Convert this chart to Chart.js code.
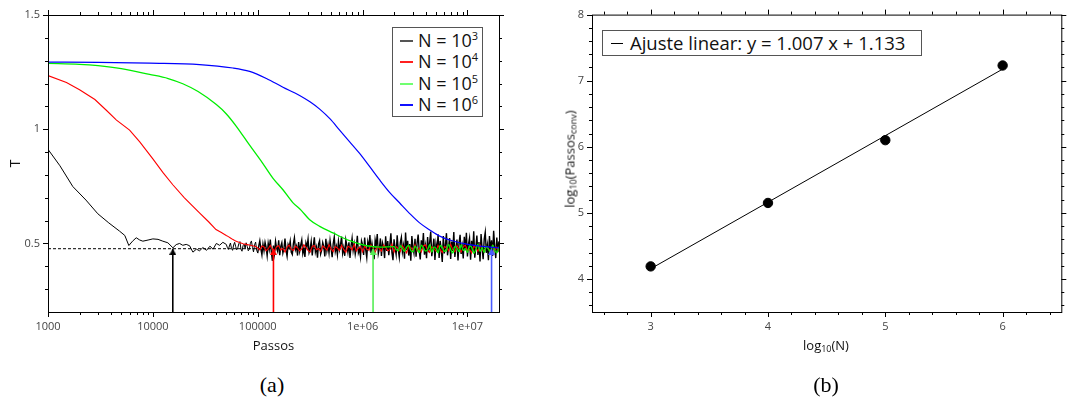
<!DOCTYPE html>
<html>
<head>
<meta charset="utf-8">
<script src="https://cdn.jsdelivr.net/npm/chart.js@4.4.1/dist/chart.umd.min.js"></script>
<style>
  body { margin: 0; background: #fff; width: 1067px; height: 407px; position: relative; overflow: hidden; font-family: 'Open Sans', sans-serif; }
  .panel { position: absolute; top: 0; height: 360px; }
  #panel-a { left: 0; width: 530px; }
  #panel-b { left: 540px; width: 527px; }
  .legend { position: absolute; background: #fff; border: 1px solid #555; color: #111; box-sizing: border-box; }
  #legend-a { left: 392px; top: 27px; width: 91px; height: 90px; padding-top: 2px; }
  #legend-a .row { position: relative; height: 21.3px; line-height: 21.3px; font-size: 18px; padding-left: 25px; white-space: nowrap; }
  #legend-a .swatch { position: absolute; left: 7px; top: 10px; width: 13px; height: 2px; }
  #legend-a sup { font-size: 11px; vertical-align: 0; position: relative; top: -7px; }
  #legend-b { left: 602px; top: 30px; width: 320px; height: 26px; font-size: 18.5px; line-height: 24px; padding-left: 27px; white-space: nowrap; }
  #legend-b .swatch { position: absolute; left: 8px; top: 12px; width: 12px; height: 1px; background: #000; }
  .axis-title { position: absolute; font-size: 13px; color: #111; white-space: nowrap; transform: translate(-50%, -50%); }
  .axis-title sub { font-size: 9px; vertical-align: -2px; }
  #xtitle-b { left: 826px; top: 345px; }
  #ytitle-b { left: 570px; top: 159px; transform: translate(-50%, -50%) rotate(-90deg); }
  .caption { position: absolute; top: 385px; font-family: 'Liberation Serif', serif; font-size: 22px; transform: translate(-50%, -50%); }
</style>
</head>
<body>
<div id="panel-a" class="panel"><canvas id="chart-a" width="530" height="360"></canvas></div>
<div id="panel-b" class="panel"><canvas id="chart-b" width="527" height="360"></canvas></div>
<div id="legend-a" class="legend"></div>
<div id="legend-b" class="legend"><span class="swatch"></span>Ajuste linear: y = 1.007 x + 1.133</div>
<div class="axis-title" id="xtitle-b">log<sub>10</sub>(N)</div>
<div class="axis-title" id="ytitle-b">log<sub>10</sub>(Passos<sub>conv</sub>)</div>
<div class="caption" style="left:272px">(a)</div>
<div class="caption" style="left:826px">(b)</div>
<script>
// ---- panel (a): T vs Passos ----
const seriesExponents = [3, 4, 5, 6];

const blackPassos = [1000, 1300, 1725, 2300, 2985, 3800, 4810, 5400, 5900, 6400, 6940, 7500, 8030, 9000, 10000, 11200, 12450, 13900, 15530, 16700, 17980, 19300, 20800, 22400, 24100, 26000, 27900, 30000, 32500, 35000, 37500, 40300, 43300, 46500];
const blackT = [0.912, 0.84, 0.749, 0.69, 0.63, 0.59, 0.554, 0.535, 0.491, 0.51, 0.525, 0.515, 0.51, 0.515, 0.52, 0.518, 0.51, 0.503, 0.481, 0.495, 0.50, 0.492, 0.496, 0.49, 0.462, 0.475, 0.468, 0.482, 0.47, 0.488, 0.475, 0.50, 0.492, 0.505];

const redPassos = [1000, 1500, 2000, 2800, 3600, 4500, 6000, 7500, 10000, 12500, 15500, 20000, 28000, 34000, 40000, 45000];
const redT = [1.235, 1.205, 1.173, 1.13, 1.083, 1.04, 0.996, 0.945, 0.87, 0.81, 0.757, 0.70, 0.633, 0.595, 0.561, 0.548];

const greenPassos = [1000, 2000, 3000, 5000, 9300, 14000, 19300, 27000, 40300, 50000, 62000, 83700, 110000, 140000, 174000, 215000, 260000, 313000, 390000, 522000, 753000, 1090000, 1500000];
const greenT = [1.288, 1.284, 1.278, 1.265, 1.240, 1.222, 1.199, 1.165, 1.108, 1.068, 1.015, 0.93, 0.855, 0.785, 0.735, 0.68, 0.645, 0.604, 0.575, 0.546, 0.512, 0.49, 0.484];

const bluePassos = [1000, 3000, 9300, 27900, 58000, 83700, 121000, 174000, 251000, 315000, 390000, 490000, 604000, 750000, 937000, 1170000, 1455000, 1800000, 2260000, 2800000, 3500000, 4400000, 5440000, 6800000, 8440000, 13100000, 20000000];
const blueT = [1.294, 1.293, 1.289, 1.283, 1.268, 1.253, 1.222, 1.184, 1.148, 1.12, 1.088, 1.045, 0.996, 0.946, 0.894, 0.836, 0.778, 0.725, 0.677, 0.632, 0.590, 0.558, 0.532, 0.515, 0.503, 0.488, 0.481];

// N = 10^3 equilibrium fluctuations, sampled at log10(Passos)
const blackLogPassos = [
  4.70, 4.71, 4.72, 4.73, 4.74, 4.75, 4.76, 4.77, 4.78, 4.79,
  4.80, 4.81, 4.82, 4.83, 4.84, 4.85, 4.86, 4.87, 4.88, 4.89,
  4.90, 4.91, 4.92, 4.93, 4.94, 4.95, 4.96, 4.97, 4.98, 4.99,
  5.00, 5.01, 5.02, 5.03, 5.04, 5.05, 5.06, 5.07, 5.08, 5.09,
  5.10, 5.11, 5.12, 5.13, 5.14, 5.15, 5.16, 5.17, 5.18, 5.19,
  5.20, 5.21, 5.22, 5.23, 5.24, 5.25, 5.26, 5.27, 5.28, 5.29,
  5.30, 5.31, 5.32, 5.33, 5.34, 5.35, 5.36, 5.37, 5.38, 5.39,
  5.40, 5.41, 5.42, 5.43, 5.44, 5.45, 5.46, 5.47, 5.48, 5.49,
  5.50, 5.51, 5.52, 5.53, 5.54, 5.55, 5.56, 5.57, 5.58, 5.59,
  5.60, 5.61, 5.62, 5.63, 5.64, 5.65, 5.66, 5.67, 5.68, 5.69,
  5.70, 5.71, 5.72, 5.73, 5.74, 5.75, 5.76, 5.77, 5.78, 5.79,
  5.80, 5.81, 5.82, 5.83, 5.84, 5.85, 5.86, 5.87, 5.88, 5.89,
  5.90, 5.91, 5.92, 5.93, 5.94, 5.95, 5.96, 5.97, 5.98, 5.99,
  6.00, 6.01, 6.02, 6.03, 6.04, 6.05, 6.06, 6.07, 6.08, 6.09,
  6.10, 6.11, 6.12, 6.13, 6.14, 6.15, 6.16, 6.17, 6.18, 6.19,
  6.20, 6.21, 6.22, 6.23, 6.24, 6.25, 6.26, 6.27, 6.28, 6.29,
  6.30, 6.31, 6.32, 6.33, 6.34, 6.35, 6.36, 6.37, 6.38, 6.39,
  6.40, 6.41, 6.42, 6.43, 6.44, 6.45, 6.46, 6.47, 6.48, 6.49,
  6.50, 6.51, 6.52, 6.53, 6.54, 6.55, 6.56, 6.57, 6.58, 6.59,
  6.60, 6.61, 6.62, 6.63, 6.64, 6.65, 6.66, 6.67, 6.68, 6.69,
  6.70, 6.71, 6.72, 6.73, 6.74, 6.75, 6.76, 6.77, 6.78, 6.79,
  6.80, 6.81, 6.82, 6.83, 6.84, 6.85, 6.86, 6.87, 6.88, 6.89,
  6.90, 6.91, 6.92, 6.93, 6.94, 6.95, 6.96, 6.97, 6.98, 6.99,
  7.00, 7.01, 7.02, 7.03, 7.04, 7.05, 7.06, 7.07, 7.08, 7.09,
  7.10, 7.11, 7.12, 7.13, 7.14, 7.15, 7.16, 7.17, 7.18, 7.19,
  7.20, 7.21, 7.22, 7.23, 7.24, 7.25, 7.26, 7.27, 7.28, 7.29,
  7.30
];
const blackNoiseT = [
  0.496, 0.483, 0.474, 0.489, 0.502, 0.478, 0.470, 0.493, 0.505, 0.486,
  0.472, 0.481, 0.499, 0.508, 0.476, 0.466, 0.490, 0.497, 0.479, 0.503,
  0.487, 0.468, 0.475, 0.501, 0.511, 0.482, 0.463, 0.494, 0.506, 0.471,
  0.458, 0.489, 0.512, 0.476, 0.450, 0.497, 0.468, 0.505, 0.483, 0.446,
  0.501, 0.474, 0.517, 0.462, 0.424, 0.491, 0.455, 0.509, 0.480, 0.466,
  0.514, 0.449, 0.487, 0.503, 0.458, 0.477, 0.521, 0.470, 0.444, 0.495,
  0.482, 0.510, 0.461, 0.452, 0.499, 0.525, 0.473, 0.488, 0.447, 0.506,
  0.466, 0.493, 0.515, 0.456, 0.479, 0.441, 0.502, 0.485, 0.519, 0.460,
  0.475, 0.508, 0.448, 0.490, 0.527, 0.463, 0.484, 0.438, 0.497, 0.512,
  0.454, 0.471, 0.504, 0.486, 0.443, 0.520, 0.468, 0.495, 0.459, 0.513,
  0.478, 0.440, 0.500, 0.528, 0.465, 0.487, 0.451, 0.509, 0.473, 0.496,
  0.530, 0.457, 0.482, 0.446, 0.516, 0.492, 0.462, 0.505, 0.437, 0.489,
  0.523, 0.469, 0.498, 0.453, 0.481, 0.534, 0.460, 0.476, 0.442, 0.511,
  0.494, 0.450, 0.526, 0.472, 0.438, 0.507, 0.483, 0.537, 0.458, 0.499,
  0.466, 0.431, 0.515, 0.490, 0.541, 0.455, 0.478, 0.522, 0.445, 0.503,
  0.486, 0.436, 0.531, 0.467, 0.510, 0.449, 0.495, 0.544, 0.460, 0.427,
  0.518, 0.481, 0.452, 0.536, 0.474, 0.440, 0.505, 0.527, 0.463, 0.491,
  0.433, 0.548, 0.470, 0.512, 0.447, 0.497, 0.424, 0.532, 0.484, 0.458,
  0.520, 0.442, 0.501, 0.539, 0.468, 0.430, 0.514, 0.477, 0.546, 0.451,
  0.489, 0.435, 0.528, 0.462, 0.506, 0.552, 0.444, 0.480, 0.521, 0.428,
  0.498, 0.465, 0.540, 0.437, 0.511, 0.473, 0.419, 0.533, 0.456, 0.492,
  0.545, 0.448, 0.485, 0.524, 0.432, 0.508, 0.467, 0.550, 0.441, 0.479,
  0.517, 0.426, 0.502, 0.538, 0.454, 0.488, 0.434, 0.529, 0.471, 0.547,
  0.443, 0.496, 0.523, 0.429, 0.512, 0.464, 0.553, 0.438, 0.482, 0.535,
  0.450, 0.506, 0.421, 0.541, 0.476, 0.431, 0.519, 0.549, 0.459, 0.493,
  0.427, 0.532, 0.470, 0.514, 0.445, 0.555, 0.485, 0.436, 0.526, 0.462,
  0.509
];

// N = 10^4 and 10^5 equilibrium region, sampled at log10(Passos)
const coarseLogPassos = [
  4.70, 4.72, 4.74, 4.76, 4.78, 4.80, 4.82, 4.84, 4.86, 4.88,
  4.90, 4.92, 4.94, 4.96, 4.98, 5.00, 5.02, 5.04, 5.06, 5.08,
  5.10, 5.12, 5.14, 5.16, 5.18, 5.20, 5.22, 5.24, 5.26, 5.28,
  5.30, 5.32, 5.34, 5.36, 5.38, 5.40, 5.42, 5.44, 5.46, 5.48,
  5.50, 5.52, 5.54, 5.56, 5.58, 5.60, 5.62, 5.64, 5.66, 5.68,
  5.70, 5.72, 5.74, 5.76, 5.78, 5.80, 5.82, 5.84, 5.86, 5.88,
  5.90, 5.92, 5.94, 5.96, 5.98, 6.00, 6.02, 6.04, 6.06, 6.08,
  6.10, 6.12, 6.14, 6.16, 6.18, 6.20, 6.22, 6.24, 6.26, 6.28,
  6.30, 6.32, 6.34, 6.36, 6.38, 6.40, 6.42, 6.44, 6.46, 6.48,
  6.50, 6.52, 6.54, 6.56, 6.58, 6.60, 6.62, 6.64, 6.66, 6.68,
  6.70, 6.72, 6.74, 6.76, 6.78, 6.80, 6.82, 6.84, 6.86, 6.88,
  6.90, 6.92, 6.94, 6.96, 6.98, 7.00, 7.02, 7.04, 7.06, 7.08,
  7.10, 7.12, 7.14, 7.16, 7.18, 7.20, 7.22, 7.24, 7.26, 7.28,
  7.30
];
const redNoiseT = [
  0.535, 0.530, 0.524, 0.518, 0.513, 0.509, 0.505, 0.502, 0.499, 0.497,
  0.495, 0.493, 0.491, 0.489, 0.487,
  0.480, 0.472, 0.489, 0.485, 0.468, 0.477, 0.492, 0.474, 0.466, 0.486,
  0.490, 0.471, 0.479, 0.463, 0.484, 0.493, 0.475, 0.469, 0.488, 0.481,
  0.467, 0.476, 0.494, 0.483, 0.470, 0.462, 0.487, 0.491, 0.473, 0.478,
  0.465, 0.489, 0.482, 0.471, 0.495, 0.476, 0.464, 0.486, 0.480, 0.469,
  0.492, 0.474, 0.461, 0.488, 0.483, 0.472, 0.496, 0.467, 0.479, 0.485,
  0.463, 0.490, 0.475, 0.470, 0.494, 0.481, 0.460, 0.487, 0.477, 0.466,
  0.493, 0.484, 0.468, 0.473, 0.497, 0.462, 0.486, 0.479, 0.465, 0.491,
  0.476, 0.459, 0.488, 0.483, 0.470, 0.495, 0.467, 0.480, 0.463, 0.489,
  0.494, 0.471, 0.461, 0.485, 0.478, 0.466, 0.492, 0.474, 0.460, 0.487,
  0.482, 0.468, 0.496, 0.473, 0.464, 0.490, 0.477, 0.462, 0.485, 0.493,
  0.469, 0.475, 0.458, 0.488, 0.481, 0.466, 0.494, 0.472, 0.463, 0.486,
  0.479, 0.461, 0.491, 0.470, 0.484, 0.467
];
// green tail starts at coarseLogPassos index 80 (10^6.3)
const greenTailT = [
  0.486, 0.474, 0.468, 0.490, 0.479, 0.465, 0.484, 0.492, 0.470, 0.463,
  0.488, 0.476, 0.460, 0.493, 0.481, 0.467, 0.472, 0.495, 0.462, 0.485,
  0.478, 0.459, 0.491, 0.483, 0.466, 0.470, 0.496, 0.474, 0.458, 0.487,
  0.480, 0.464, 0.494, 0.469, 0.477, 0.461, 0.490, 0.484, 0.457, 0.473,
  0.497, 0.466, 0.482, 0.460, 0.488, 0.475, 0.463, 0.493, 0.471, 0.459,
  0.486
];
const equilibriumT = 0.477;

const passosMajorTicks = [1000, 10000, 100000, 1000000, 10000000];
const passosTickLabels = ['1000', '10000', '100000', '1e+06', '1e+07'];
const passosMinorTicks = [2e3, 3e3, 4e3, 5e3, 6e3, 7e3, 8e3, 9e3, 2e4, 3e4, 4e4, 5e4, 6e4, 7e4, 8e4, 9e4, 2e5, 3e5, 4e5, 5e5, 6e5, 7e5, 8e5, 9e5, 2e6, 3e6, 4e6, 5e6, 6e6, 7e6, 8e6, 9e6];
const tMajorTicks = [0.5, 1, 1.5];
const tTickLabels = ['0.5', '1', '1.5'];
const tMinorTicks = [0.3, 0.4, 0.6, 0.7, 0.8, 0.9, 1.1, 1.2, 1.3, 1.4];

// ---- panel (b): convergence steps vs N ----
const logN = [3, 4, 5, 6];
const logPassosConv = [4.19, 5.15, 6.10, 7.23];
const fitLineX = [3, 6];
const fitLineY = [4.154, 7.175];
const logNMajorTicks = [3, 4, 5, 6];
const logNMinorTicks = [2.6, 2.8, 3.2, 3.4, 3.6, 3.8, 4.2, 4.4, 4.6, 4.8, 5.2, 5.4, 5.6, 5.8, 6.2, 6.4];
const logPMajorTicks = [4, 5, 6, 7, 8];
const logPMinorTicks = [3.6, 3.8, 4.2, 4.4, 4.6, 4.8, 5.2, 5.4, 5.6, 5.8, 6.2, 6.4, 6.6, 6.8, 7.2, 7.4, 7.6, 7.8];

const colors = ['#000000', '#ff0000', '#00ee00', '#0000ff'];
const arrowColors = ['#000000', '#ff0000', '#55ee55', '#4a5cff'];
const legendSwatch = ['#555555', '#ff2020', '#70ff70', '#1010ff'];

const pts = (xs, ys) => xs.map((x, i) => ({ x: x, y: ys[i] }));
const logPts = (ls, ys) => ys.map((y, i) => ({ x: Math.pow(10, ls[i]), y: y }));

function arrowHead(color) {
  const c = document.createElement('canvas');
  c.width = 7; c.height = 12;
  const g = c.getContext('2d');
  g.fillStyle = color;
  g.beginPath();
  g.moveTo(3.5, 6); g.lineTo(7, 12); g.lineTo(0, 12);
  g.closePath(); g.fill();
  return c;
}

// box + outward major/minor ticks on all four sides
const frameTicks = {
  id: 'frameTicks',
  afterDraw(chart, args, o) {
    const { ctx, chartArea: a } = chart;
    const sx = chart.scales.x, sy = chart.scales.y;
    ctx.save();
    ctx.strokeStyle = '#000';
    ctx.lineWidth = 1;
    ctx.strokeRect(a.left + 0.5, a.top + 0.5, a.right - a.left, a.bottom - a.top);
    ctx.beginPath();
    const tx = (vals, len) => vals.forEach(v => {
      const p = Math.round(sx.getPixelForValue(v)) + 0.5;
      ctx.moveTo(p, a.bottom); ctx.lineTo(p, a.bottom + len);
      ctx.moveTo(p, a.top); ctx.lineTo(p, a.top - len);
    });
    const ty = (vals, len) => vals.forEach(v => {
      const p = Math.round(sy.getPixelForValue(v)) + 0.5;
      ctx.moveTo(a.left, p); ctx.lineTo(a.left - len, p);
      ctx.moveTo(a.right, p); ctx.lineTo(a.right + len, p);
    });
    tx(o.xMajor, 5); tx(o.xMinor, 3);
    ty(o.yMajor, 5); ty(o.yMinor, 3);
    ctx.stroke();
    ctx.restore();
  }
};

const tickFont = { family: 'Open Sans', size: 11 };
const tickColor = '#444';

function fixedScale(opts) {
  return Object.assign({
    grid: { display: false, drawTicks: false },
    border: { display: false },
    ticks: {
      font: tickFont, color: tickColor, autoSkip: false, maxRotation: 0, padding: opts.pad,
      callback: (v, i) => opts.labels[i]
    },
    afterBuildTicks: s => { s.ticks = opts.values.map(v => ({ value: v })); },
    afterFit: s => { if (opts.w !== undefined) s.width = opts.w; if (opts.h !== undefined) s.height = opts.h; }
  }, opts.base);
}

// legend (a)
const legendA = document.getElementById('legend-a');
seriesExponents.forEach((e, i) => {
  const row = document.createElement('div');
  row.className = 'row';
  row.innerHTML = '<span class="swatch" style="background:' + legendSwatch[i] + '"></span>N = 10<sup>' + e + '</sup>';
  legendA.appendChild(row);
});

const convPassos = logPassosConv.map(v => Math.pow(10, v));
const arrowSets = convPassos.map((p, i) => ({
  data: [{ x: p, y: 0.2 }, { x: p, y: equilibriumT }],
  borderColor: arrowColors[i],
  borderWidth: 1.6,
  pointRadius: [0, 3],
  pointStyle: arrowHead(arrowColors[i]),
  order: 0
}));

new Chart(document.getElementById('chart-a'), {
  type: 'line',
  data: {
    datasets: [
      {
        data: pts(blackPassos, blackT).concat(logPts(blackLogPassos, blackNoiseT)),
        borderColor: colors[0], borderWidth: 1, pointRadius: 0, tension: 0, order: 4,
        // the dense equilibrium part reads as a heavier band
        segment: { borderWidth: c => (c.p0DataIndex >= blackPassos.length + 30 ? 1.4 : 1) }
      },
      {
        data: pts(redPassos, redT).concat(logPts(coarseLogPassos, redNoiseT)),
        borderColor: colors[1], borderWidth: 1.1, pointRadius: 0, tension: 0, order: 3
      },
      {
        data: pts(greenPassos, greenT).concat(logPts(coarseLogPassos.slice(80), greenTailT)),
        borderColor: colors[2], borderWidth: 1.3, pointRadius: 0, cubicInterpolationMode: 'monotone', order: 2
      },
      {
        data: pts(bluePassos, blueT),
        borderColor: colors[3], borderWidth: 1.2, pointRadius: 0, cubicInterpolationMode: 'monotone', order: 1
      },
      {
        data: [{ x: passosMajorTicks[0], y: equilibriumT }, { x: 2e7, y: equilibriumT }],
        borderColor: '#000', borderWidth: 1, borderDash: [3, 2], pointRadius: 0, order: 5
      }
    ].concat(arrowSets)
  },
  options: {
    responsive: false,
    devicePixelRatio: 1,
    animation: false,
    layout: { padding: { top: 15, right: 31, left: 0, bottom: 0 } },
    plugins: {
      legend: { display: false },
      tooltip: { enabled: false },
      frameTicks: { xMajor: passosMajorTicks, xMinor: passosMinorTicks, yMajor: tMajorTicks, yMinor: tMinorTicks }
    },
    scales: {
      x: fixedScale({
        values: passosMajorTicks, labels: passosTickLabels, pad: 8, h: 48,
        base: {
          type: 'logarithmic', position: 'bottom', min: 1000, max: 2e7,
          title: { display: true, text: 'Passos', font: { family: 'Open Sans', size: 13 }, color: '#111', padding: { top: 0, bottom: 6 } }
        }
      }),
      y: fixedScale({
        values: tMajorTicks, labels: tTickLabels, pad: 8, w: 48,
        base: {
          type: 'linear', position: 'left', min: 0.2, max: 1.5,
          title: { display: true, text: 'T', font: { family: 'Open Sans', size: 14 }, color: '#111', padding: { top: 8, bottom: 0 } }
        }
      })
    }
  },
  plugins: [frameTicks]
});

new Chart(document.getElementById('chart-b'), {
  type: 'scatter',
  data: {
    datasets: [
      {
        data: pts(logN, logPassosConv),
        backgroundColor: '#000', borderColor: '#000', pointRadius: 4.7, order: 0
      },
      {
        type: 'line',
        data: pts(fitLineX, fitLineY),
        borderColor: '#000', borderWidth: 1, pointRadius: 0, order: 1
      }
    ]
  },
  options: {
    responsive: false,
    devicePixelRatio: 1,
    animation: false,
    layout: { padding: { top: 14, right: 5, left: 0, bottom: 0 } },
    plugins: {
      legend: { display: false },
      tooltip: { enabled: false },
      frameTicks: { xMajor: logNMajorTicks, xMinor: logNMinorTicks, yMajor: logPMajorTicks, yMinor: logPMinorTicks }
    },
    scales: {
      x: fixedScale({
        values: logNMajorTicks, labels: logNMajorTicks.map(String), pad: 8, h: 48,
        base: { type: 'linear', position: 'bottom', min: 2.5, max: 6.5 }
      }),
      y: fixedScale({
        values: logPMajorTicks, labels: logPMajorTicks.map(String), pad: 8, w: 52,
        base: { type: 'linear', position: 'left', min: 3.5, max: 8 }
      })
    }
  },
  plugins: [frameTicks]
});
</script>
</body>
</html>
